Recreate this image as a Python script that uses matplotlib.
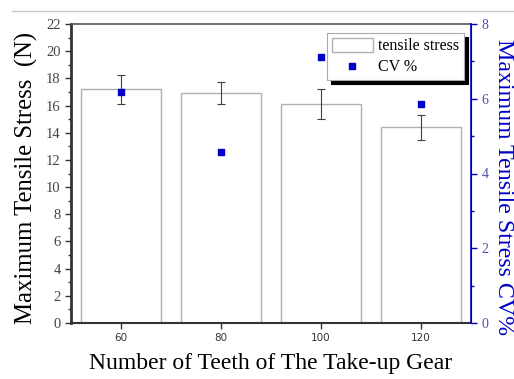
import matplotlib
matplotlib.use("Agg")
import matplotlib.pyplot as plt
from matplotlib.lines import Line2D
from matplotlib.ticker import MultipleLocator

teeth = [60, 80, 100, 120]
stress = [17.2, 16.9, 16.1, 14.4]
stress_err = [1.05, 0.8, 1.1, 0.9]
cv = [6.18, 4.57, 7.11, 5.86]

serif = "Liberation Serif"
blue = "#0000c8"

fig = plt.figure(figsize=(5.14, 3.79), dpi=100)
ax = fig.add_axes([71 / 514, 1 - 323 / 379, 400 / 514, 299 / 379])
fig.add_artist(Line2D([12 / 514, 1], [1 - 11 / 379] * 2, color="#c8c8c8", lw=1))

bars = ax.bar(teeth, stress, width=16, color="white", edgecolor="#b0b0b0", lw=1,
              label="tensile stress", zorder=2)
ax.errorbar(teeth, stress, yerr=stress_err, fmt="none", ecolor="#404040",
            elinewidth=0.8, capsize=3, capthick=0.8, zorder=3)
ax.set_xlim(50, 130)
ax.set_ylim(0, 22)
ax.yaxis.set_major_locator(MultipleLocator(2))
ax.yaxis.set_minor_locator(MultipleLocator(1))
ax.set_xticks(teeth)
ax.tick_params(axis="y", direction="out", labelsize=10.5, length=4, width=1, colors="#333333",
               labelcolor="#444444", labelfontfamily=serif)
ax.tick_params(axis="y", which="minor", length=2, width=1, colors="#333333")
ax.tick_params(axis="x", direction="out", labelsize=7.5, length=4, width=1, colors="#333333",
               labelfontfamily="DejaVu Sans")
ax.spines["left"].set_linewidth(2)
ax.spines["left"].set_color("#333333")
ax.spines["bottom"].set_linewidth(1.5)
ax.spines["bottom"].set_color("#333333")
ax.spines["top"].set_color("#555555")
ax.spines["top"].set_linewidth(1.2)
ax.set_ylabel("Maximum Tensile Stress  (N)", family=serif, fontsize=17.8)
ax.yaxis.set_label_coords(-0.083, 0.485)
ax.set_xlabel("Number of Teeth of The Take-up Gear", family=serif, fontsize=17, labelpad=7)

ax2 = ax.twinx()
pts = ax2.scatter(teeth, cv, marker="s", s=16, color=blue, label="CV %", zorder=4)
ax2.set_ylim(0, 8)
ax2.yaxis.set_major_locator(MultipleLocator(2))
ax2.yaxis.set_minor_locator(MultipleLocator(1))
ax2.tick_params(axis="y", direction="out", labelsize=10, length=4, width=1, colors=blue,
                labelcolor="#5050b0", labelfontfamily=serif)
ax2.tick_params(axis="y", which="minor", length=2, width=1, colors=blue)
ax2.spines["right"].set_color(blue)
ax2.spines["right"].set_linewidth(1.2)
ax2.spines["left"].set_visible(False)
ax2.spines["top"].set_visible(False)
ax2.spines["bottom"].set_visible(False)
ax2.set_ylabel("Maximum Tensile Stress CV%", family=serif, fontsize=17.2, color=blue,
               rotation=270, va="center")
ax2.yaxis.set_label_coords(1.08, 0.455)

leg = ax2.legend([bars, pts], ["tensile stress", "CV %"], loc="upper right",
                 bbox_to_anchor=(0.982, 0.97), prop={"family": serif, "size": 11.5},
                 frameon=True, fancybox=False,
                 shadow={"color": "black", "alpha": 1, "ox": 3, "oy": -3},
                 edgecolor="#aaaaaa", handlelength=2.6, handleheight=1.0,
                 borderpad=0.3, labelspacing=0.25, handletextpad=0.3, borderaxespad=0)
leg.get_frame().set_linewidth(0.8)

fig.savefig("out.png", dpi=100)
